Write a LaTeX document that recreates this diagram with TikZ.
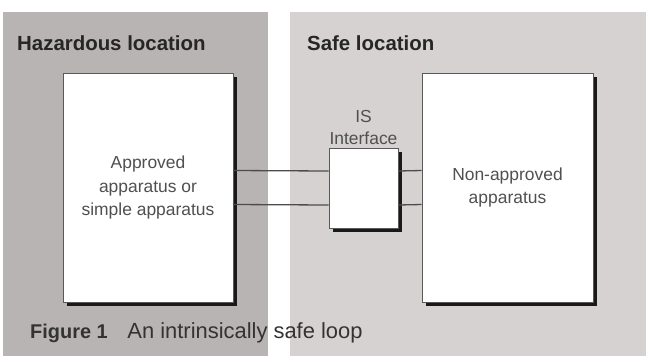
\documentclass[tikz,border=0pt]{standalone}
\usepackage{fontspec}
\setmainfont{Liberation Sans}
\usetikzlibrary{positioning,shadows}
\definecolor{hazgray}{RGB}{184,180,179}
\definecolor{safegray}{RGB}{214,210,210}
\definecolor{textgray}{RGB}{80,80,80}
\begin{document}
\begin{tikzpicture}[x=1bp,y=-1bp,
    apparatus/.style={draw=black!65,fill=white,line width=0.8bp,align=center,text=textgray,
        font=\fontsize{17.5}{23.5}\selectfont,
        drop shadow={shadow xshift=4bp,shadow yshift=-4bp,fill=black!90,opacity=1}},
    zone/.style={anchor=west,inner sep=0pt,text=black!85,font=\bfseries\fontsize{20.5}{24}\selectfont},
    wire/.style={draw=black!70,line width=1.3bp}]
\useasboundingbox (0,0) rectangle (648,356);
%Draw the two locations
    \fill[hazgray] (3,12) rectangle (268,356);
    \fill[safegray] (290,12) rectangle (646,356);
    \node[zone] (hazard) at (17,43) {Hazardous location};
    \node[zone] (safe) at (307,43) {Safe location};
%Draw the apparatus boxes and the interface between them
    \node[apparatus,minimum width=170bp,minimum height=229bp] (approved) at (148,187.5) {Approved\\apparatus or\\simple apparatus};
    \node[apparatus,minimum width=171bp,minimum height=229bp] (nonapproved) at (507.5,187.5) {Non-approved\\apparatus};
    \node[apparatus,minimum width=69bp,minimum height=80bp] (is) at (363.5,188) {};
    \node[above=3bp of is,align=center,text=textgray,inner sep=0pt,font=\fontsize{17.5}{22}\selectfont] (islabel) {IS\\Interface};
%Draw the two wires of the loop
    \foreach \shift in {17,-17}
        {
        \draw[wire] ([yshift=\shift bp]approved.east) -- ([yshift=\shift bp]is.west);
        \draw[wire] ([yshift=\shift bp]is.east) -- ([yshift=\shift bp]nonapproved.west);
    }
    \node[anchor=west,inner sep=0pt,text=black!80,font=\fontsize{22}{24}\selectfont] (caption) at (30,333) {{\bfseries\fontsize{20}{24}\selectfont Figure 1}\hspace{0.9em}An intrinsically safe loop};
\end{tikzpicture}
\end{document}
